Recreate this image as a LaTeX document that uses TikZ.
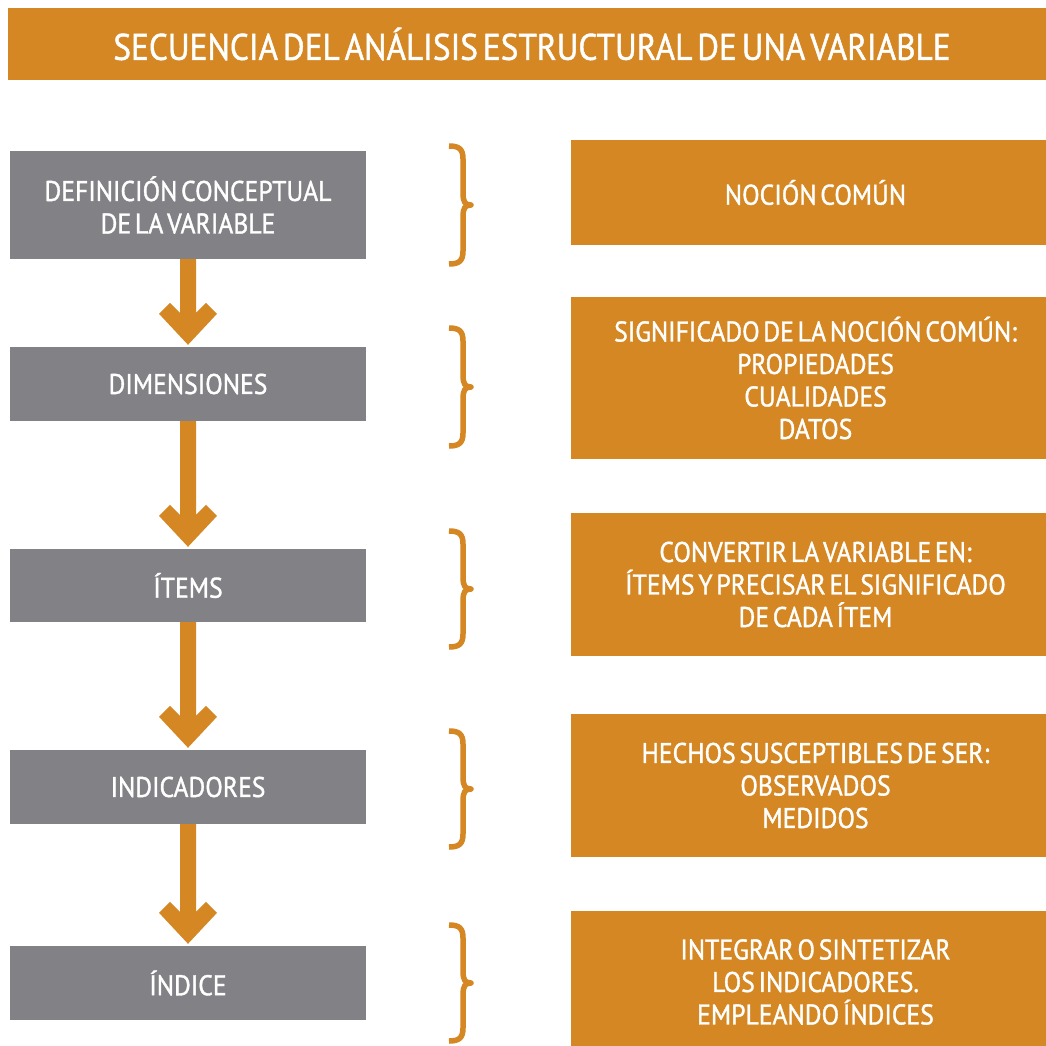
\documentclass[tikz,border=0pt]{standalone}
\usepackage{fontspec}
\setmainfont{PT Sans}[FakeStretch=0.9, WordSpace=0.55, FakeBold=1.2]
\usetikzlibrary{calc}
\definecolor{ora}{RGB}{212,135,35}
\definecolor{gry}{RGB}{130,130,134}
\newcommand\txtbody{\fontsize{28.5}{32.5}\selectfont}
\newcommand\txttitle{\fontsize{37}{44}\selectfont}
\newcommand\flowarrow[2]{\fill[arrowc] ($(#1.south)+(-8,0)$) -- ($(#2.north)+(-8,-34)$) -- ($(#2.north)+(-18,-44)$) -- ($(#2.north)+(-29,-33)$) -- ($(#2.north)+(0,-2)$) -- ($(#2.north)+(29,-33)$) -- ($(#2.north)+(18,-44)$) -- ($(#2.north)+(8,-34)$) -- ($(#1.south)+(8,0)$) -- cycle;}
\begin{document}
\begin{tikzpicture}[x=1pt,y=-1pt,
  graybox/.style={fill=gry, text=white, inner sep=0pt, minimum width=356pt, align=center, font=\txtbody},
  orabox/.style={fill=ora, text=white, inner sep=0pt, minimum width=489pt, align=center, font=\txtbody},
  arrowc/.style={fill=ora},
  bracec/.style={draw=ora, line width=5.5pt, line join=round}]
\useasboundingbox (0,0) rectangle (1046,1046);
\fill[white] (0,0) rectangle (1046,1046);
\node[fill=ora, minimum width=1048pt, minimum height=72pt, inner sep=0pt, text=white, font=\txttitle] (title) at (532,44) {SECUENCIA DEL ANÁLISIS ESTRUCTURAL DE UNA VARIABLE};
% left column
\node[graybox, minimum height=108pt] (g1) at (188,205) {DEFINICIÓN CONCEPTUAL\\DE LA VARIABLE};
\node[graybox, minimum height=74pt] (g2) at (188,384) {DIMENSIONES};
\node[graybox, minimum height=73pt] (g3) at (188,585.5) {ÍTEMS};
\node[graybox, minimum height=74pt] (g4) at (188,787) {INDICADORES};
\node[graybox, minimum height=74pt] (g5) at (188,983) {ÍNDICE};
% right column
\node[orabox, minimum height=105pt] (o1) at (815.5,192.5) {NOCIÓN COMÚN};
\node[orabox, minimum height=162pt] (o2) at (815.5,378) {SIGNIFICADO DE LA NOCIÓN COMÚN:\\PROPIEDADES\\CUALIDADES\\DATOS};
\node[orabox, minimum height=143pt] (o3) at (815.5,584.5) {CONVERTIR LA VARIABLE EN:\\ÍTEMS Y PRECISAR EL SIGNIFICADO\\DE CADA ÍTEM};
\node[orabox, minimum height=143pt] (o4) at (815.5,785.5) {HECHOS SUSCEPTIBLES DE SER:\\OBSERVADOS\\MEDIDOS};
\node[orabox, minimum height=142pt] (o5) at (815.5,982) {INTEGRAR O SINTETIZAR\\LOS INDICADORES.\\EMPLEANDO ÍNDICES};
% arrows
\flowarrow{g1}{g2}
\flowarrow{g2}{g3}
\flowarrow{g3}{g4}
\flowarrow{g4}{g5}
% braces
\foreach \t/\b in {143/267, 325/449, 528/650, 728/850, 922/1044} {
  \pgfmathsetmacro\c{(\t+\b)/2}
  \draw[bracec] (449,\t+3) .. controls (459,\t+3) and (463,\t+6) .. (463,\t+16) -- (463,\c-12) .. controls (463,\c-3) and (465,\c) .. (471,\c) .. controls (465,\c) and (463,\c+3) .. (463,\c+12) -- (463,\b-16) .. controls (463,\b-6) and (459,\b-3) .. (449,\b-3);
}
\end{tikzpicture}
\end{document}
